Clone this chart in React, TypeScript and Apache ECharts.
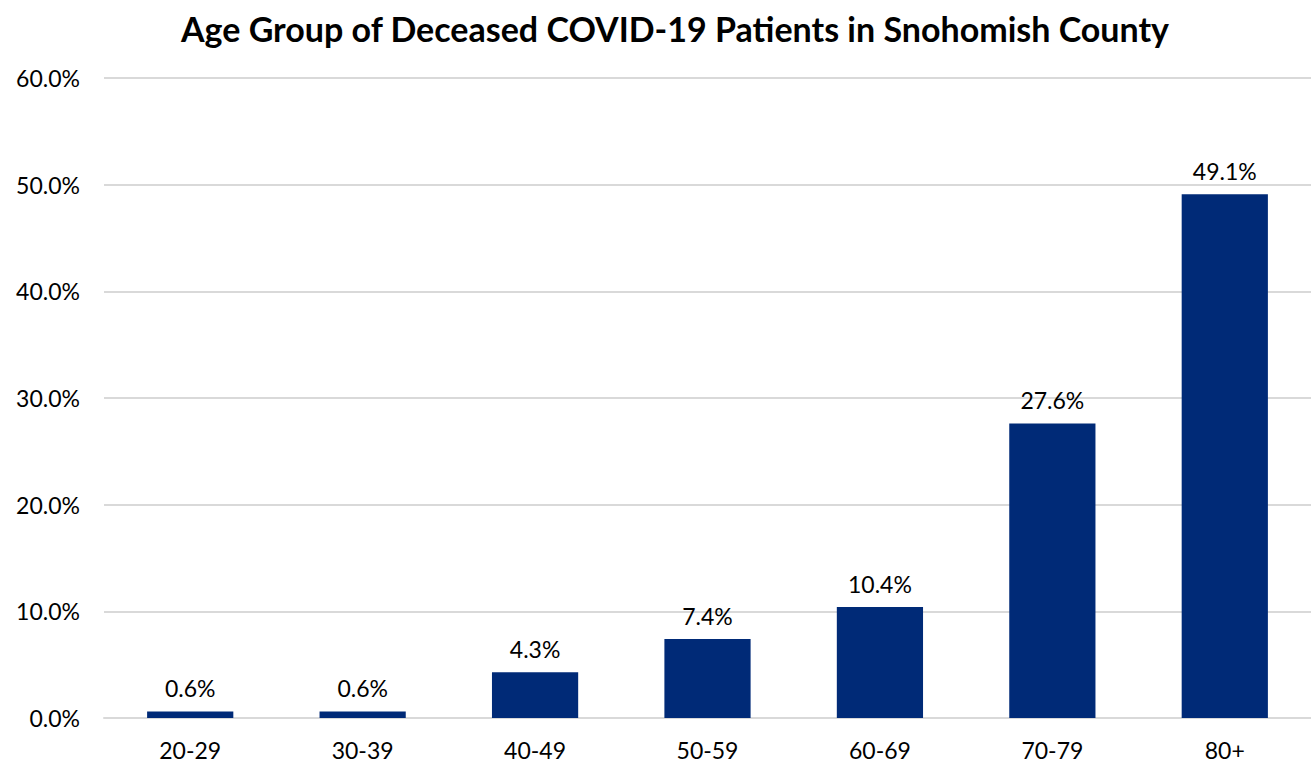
import React, { useEffect, useRef } from "react";
import * as echarts from "echarts";

const categories = ["20-29", "30-39", "40-49", "50-59", "60-69", "70-79", "80+"];
const values = [0.6, 0.6, 4.3, 7.4, 10.4, 27.6, 49.1];
const titleText = "Age Group of Deceased COVID-19 Patients in Snohomish County";

const FONT = "Lato, 'Open Sans', sans-serif";

export default function App() {
  const ref = useRef<HTMLDivElement>(null);
  useEffect(() => {
    if (!ref.current) return;
    const chart = echarts.init(ref.current, null, { renderer: "svg" });
    chart.setOption({
      animation: false,
      backgroundColor: "#ffffff",
      title: {
        text: titleText,
        left: 670,
        textAlign: "center",
        top: 6,
        textStyle: { fontFamily: FONT, fontWeight: "bold", fontSize: 34, color: "#000000" },
      },
      grid: { left: 104, right: 0, top: 78, bottom: 47, containLabel: false },
      xAxis: {
        type: "category",
        data: categories,
        axisLine: { lineStyle: { color: "#d9d9d9", width: 2 } },
        axisTick: { show: false },
        axisLabel: { fontFamily: FONT, fontSize: 23, color: "#000000", margin: 20 },
      },
      yAxis: {
        type: "value",
        min: 0,
        max: 60,
        interval: 10,
        axisLine: { show: false },
        axisTick: { show: false },
        splitLine: { lineStyle: { color: "#d9d9d9", width: 2 } },
        axisLabel: {
          fontFamily: FONT,
          fontSize: 23,
          color: "#000000",
          margin: 24,
          formatter: (v: number) => v.toFixed(1) + "%",
        },
      },
      series: [
        {
          type: "bar",
          data: values,
          barWidth: "50%",
          itemStyle: { color: "#002A77" },
          label: {
            show: true,
            position: "top",
            distance: 12,
            fontFamily: FONT,
            fontSize: 23,
            color: "#000000",
            formatter: (p: any) => p.value.toFixed(1) + "%",
          },
        },
      ],
    });
    return () => chart.dispose();
  }, []);
  return (
    <div
      ref={ref}
      style={{ position: "fixed", left: 0, top: 0, width: 1311, height: 765 }}
    />
  );
}
